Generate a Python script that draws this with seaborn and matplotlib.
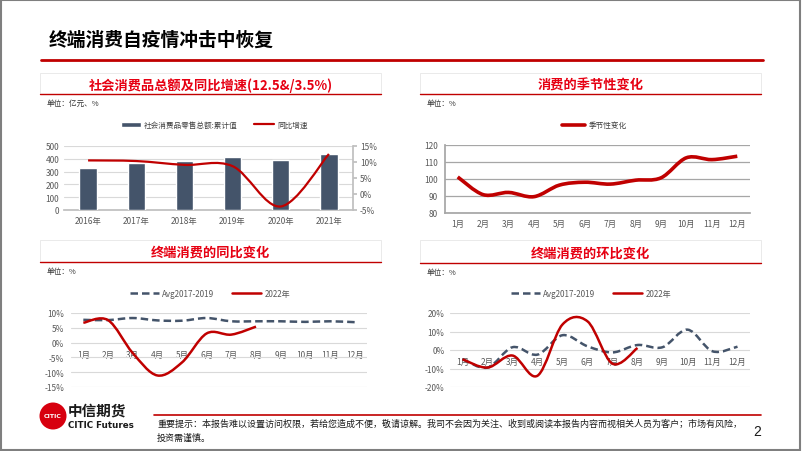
import numpy as np
import matplotlib
matplotlib.use("Agg")
import matplotlib.pyplot as plt
import seaborn as sns
from matplotlib.path import Path
from matplotlib.patches import PathPatch, Rectangle, Ellipse, Patch
from matplotlib.lines import Line2D

# ── 数据 ─────────────────────────────────────────────────────────────────────
years = ["2016年", "2017年", "2018年", "2019年", "2020年", "2021年"]
retail_total = [332, 366, 381, 412, 392, 441]          # 亿元(图上刻度)
retail_yoy = [10.5, 10.3, 9.1, 8.7, -3.9, 12.5]        # %

months = ["1月", "2月", "3月", "4月", "5月", "6月",
          "7月", "8月", "9月", "10月", "11月", "12月"]
seasonal = [101.2, 90.8, 92.1, 89.6, 96.4, 98.1, 97.0, 99.3, 100.7, 112.5, 111.4, 113.4]

yoy_avg = [7.7, 7.6, 8.3, 7.5, 7.4, 8.3, 7.2, 7.2, 7.2, 7.0, 7.2, 6.9]
yoy_2022 = [6.7, 7.6, -3.5, -11.1, -6.7, 3.1, 2.7, 5.4]

mom_avg = [-5.0, -9.5, 1.5, -2.5, 8.0, 2.0, -1.3, 2.7, 1.5, 11.0, -0.7, 1.8]
mom_2022 = [-5.0, -9.5, -3.0, -13.9, 13.8, 15.5, -7.4, 1.1]

# ── 样式 ─────────────────────────────────────────────────────────────────────
RED = "#C00000"
TITLE_RED = "#E60012"
SLATE = "#44546A"
TICK = "#595959"
GRID = "#D9D9D9"

sns.set_theme(style="white")
plt.rcParams["font.family"] = ["Noto Sans CJK SC", "DejaVu Sans"]
plt.rcParams["axes.unicode_minus"] = False

W, H = 802, 452
fig = plt.figure(figsize=(W / 100, H / 100), dpi=100)


def fx(x):
    return x / W


def fy(y):
    return 1 - y / H


def axes_px(x0, x1, y0, y1):
    # 像素坐标 -> figure 坐标
    return fig.add_axes([fx(x0), fy(y1), (x1 - x0) / W, (y1 - y0) / H])


def smooth_path(xs, ys):
    # Excel 风格平滑线 (Catmull-Rom -> Bezier)
    pts = list(zip(xs, ys))
    n = len(pts)
    verts, codes = [pts[0]], [Path.MOVETO]
    for i in range(n - 1):
        p0 = pts[i - 1] if i > 0 else pts[i]
        p1, p2 = pts[i], pts[i + 1]
        p3 = pts[i + 2] if i + 2 < n else pts[i + 1]
        c1 = (p1[0] + (p2[0] - p0[0]) / 6, p1[1] + (p2[1] - p0[1]) / 6)
        c2 = (p2[0] - (p3[0] - p1[0]) / 6, p2[1] - (p3[1] - p1[1]) / 6)
        verts += [c1, c2, p2]
        codes += [Path.CURVE4] * 3
    return Path(verts, codes)


def add_smooth(ax, ys, color, lw, ls="-"):
    path = smooth_path(range(len(ys)), ys)
    ax.add_patch(PathPatch(path, fill=False, edgecolor=color, lw=lw,
                           linestyle=ls, capstyle="butt", joinstyle="round",
                           zorder=5))


def fline(x0, x1, y0, y1, color, lw):
    fig.add_artist(Line2D([fx(x0), fx(x1)], [fy(y0), fy(y1)],
                          transform=fig.transFigure, color=color, lw=lw))


def panel_box(x0, x1, y0, y1, title, unit):
    fig.add_artist(Rectangle((fx(x0), fy(y1)), (x1 - x0) / W, (y1 - y0) / H,
                             transform=fig.transFigure, fill=False,
                             edgecolor="#E6E6E6", lw=0.6))
    fline(x0, x1, y1, y1, RED, 1.0)
    fig.text(fx((x0 + x1) / 2), fy((y0 + y1) / 2 + 1), title, ha="center",
             va="center", fontsize=9.5, fontweight="bold", color=TITLE_RED)
    fig.text(fx(x0 + 7), fy(y1 + 9), unit, ha="left", va="center",
             fontsize=5.5, color="#333333")


def style_ticks(ax):
    ax.tick_params(axis="both", labelsize=6, colors=TICK, length=0)
    for lab in ax.get_xticklabels() + ax.get_yticklabels():
        lab.set_color(TICK)


# ── 页面框与标题 ──────────────────────────────────────────────────────────────
fig.add_artist(Rectangle((0.001, 0.002), 0.997, 0.995, transform=fig.transFigure,
                         fill=False, edgecolor="#7F7F7F", lw=1.5))
fig.text(fx(49), fy(40), "终端消费自疫情冲击中恢复", ha="left", va="center",
         fontsize=13.5, fontweight="bold", color="black")
fline(41, 763, 61, 61, RED, 2.0)

panel_box(40, 381, 74, 95, "社会消费品总额及同比增速(12.5&/3.5%)", "单位：亿元、%")
panel_box(420, 761, 74, 95, "消费的季节性变化", "单位：%")
panel_box(40, 381, 241, 263, "终端消费的同比变化", "单位：%")
panel_box(420, 761, 241, 264, "终端消费的环比变化", "单位：%")

# ── 图1：社会消费品总额及同比增速 ─────────────────────────────────────────────
ax1 = axes_px(64, 353, 147, 211)
sns.barplot(x=years, y=retail_total, color=SLATE, width=0.36, ax=ax1,
            saturation=1, zorder=3)
ax1.set_xlim(-0.5, 5.5)
ax1.set_ylim(0, 500)
ax1.set_yticks(range(0, 501, 100))
ax1.set_xlabel("")
ax1.set_ylabel("")
ax1.yaxis.grid(True, color=GRID, lw=0.8)
ax1.set_axisbelow(True)
for s in ["top", "right", "left"]:
    ax1.spines[s].set_visible(False)
ax1.spines["bottom"].set_color("#BFBFBF")
style_ticks(ax1)
ax1.set_xticks(np.arange(-0.5, 6, 1), minor=True)
ax1.tick_params(axis="x", which="minor", length=3, color="#BFBFBF", direction="out")
ax1.tick_params(axis="x", pad=4)

ax1r = ax1.twinx()
ax1r.set_ylim(-5, 15)
ax1r.set_yticks(range(-5, 16, 5))
ax1r.set_yticklabels([f"{v}%" for v in range(-5, 16, 5)])
add_smooth(ax1r, retail_yoy, RED, 1.6)
for s in ["top", "left", "bottom"]:
    ax1r.spines[s].set_visible(False)
ax1r.spines["right"].set_color("#BFBFBF")
ax1r.tick_params(axis="y", labelsize=6, colors=TICK, length=3, color="#BFBFBF",
                 direction="out", pad=2)
ax1r.grid(False)
ax1r.legend(handles=[Patch(facecolor=SLATE, label="社会消费品零售总额:累计值"),
                     Line2D([], [], color=RED, lw=1.6, label="同比增速")],
            loc="center", bbox_to_anchor=(0.52, 1.33), ncol=2, frameon=False,
            fontsize=5.5, handlelength=2.6, handleheight=0.6, columnspacing=2.2,
            handletextpad=0.4, labelcolor="#404040")

# ── 图2：消费的季节性变化 ─────────────────────────────────────────────────────
ax2 = axes_px(445, 750, 146, 214)
ax2.set_xlim(-0.5, 11.5)
ax2.set_ylim(80, 120)
ax2.set_yticks(range(80, 121, 10))
ax2.set_xticks(range(12))
ax2.set_xticklabels(months)
ax2.yaxis.grid(True, color="#A6A6A6", lw=0.9)
ax2.set_axisbelow(True)
add_smooth(ax2, seasonal, RED, 2.6)
for s in ["top", "right"]:
    ax2.spines[s].set_visible(False)
ax2.spines["left"].set_color("#A6A6A6")
ax2.spines["bottom"].set_color("#A6A6A6")
style_ticks(ax2)
ax2.tick_params(axis="y", length=3, color="#A6A6A6", direction="out", pad=2)
ax2.set_xticks(np.arange(-0.5, 12, 1), minor=True)
ax2.tick_params(axis="x", which="minor", length=3, color="#A6A6A6", direction="out")
ax2.tick_params(axis="x", pad=4)
ax2.legend(handles=[Line2D([], [], color=RED, lw=2.6, label="季节性变化")],
           loc="center", bbox_to_anchor=(0.49, 1.29), frameon=False,
           fontsize=5.5, handlelength=3.0, handletextpad=0.4, labelcolor="#404040")


# ── 图3/4：同比与环比 ────────────────────────────────────────────────────────
def mom_axes(ax, avg, cur, lo, hi, step, pad_y):
    ax.set_xlim(-0.5, 11.5)
    ax.set_ylim(lo, hi)
    ax.set_yticks(range(lo, hi + 1, step))
    ax.set_yticklabels([f"{v}%" for v in range(lo, hi + 1, step)])
    ax.set_xticks(range(12))
    ax.set_xticklabels(months)
    ax.yaxis.grid(True, color=GRID, lw=0.8)
    ax.set_axisbelow(True)
    for s in ax.spines.values():
        s.set_visible(False)
    ax.spines["bottom"].set_position(("data", 0))
    style_ticks(ax)
    ax.tick_params(axis="x", pad=5)
    ax.tick_params(axis="y", pad=pad_y)
    add_smooth(ax, avg, SLATE, 1.8, ls=(0, (3, 1.6)))
    add_smooth(ax, cur, RED, 1.8)
    ax.legend(handles=[Line2D([], [], color=SLATE, lw=1.8, ls=(0, (3, 1.6)),
                              label="Avg2017-2019"),
                       Line2D([], [], color=RED, lw=1.8, label="2022年")],
              loc="center", bbox_to_anchor=(0.47, 1.27), ncol=2, frameon=False,
              fontsize=5.8, handlelength=3.6, columnspacing=2.2,
              handletextpad=0.4, labelcolor="#595959")


ax3 = axes_px(71, 367, 314, 388)
mom_axes(ax3, yoy_avg, yoy_2022, -15, 10, 5, 5)
ax4 = axes_px(450, 750, 314, 388)
mom_axes(ax4, mom_avg, mom_2022, -20, 20, 10, 4)

# ── 页脚 ─────────────────────────────────────────────────────────────────────
fig.add_artist(Ellipse((fx(53), fy(417)), 27 / W, 27 / H, transform=fig.transFigure,
                       facecolor="#D7000F", edgecolor="none"))
fig.text(fx(53), fy(417), "CITIC", ha="center", va="center", fontsize=4.5,
         fontweight="bold", color="white", family=["DejaVu Sans"])
fig.text(fx(68), fy(411), "中信期货", ha="left", va="center", fontsize=10.5,
         fontweight="bold", color="#1A1A1A")
fig.text(fx(68), fy(426), "CITIC Futures", ha="left", va="center", fontsize=6.3,
         fontweight="bold", color="#1A1A1A",
         family=["Liberation Sans Narrow", "DejaVu Sans"])
fline(154, 761, 416, 416, RED, 1.2)
fig.text(fx(157), fy(424), "重要提示：本报告难以设置访问权限，若给您造成不便，敬请谅解。"
         "我司不会因为关注、收到或阅读本报告内容而视相关人员为客户；市场有风险，",
         ha="left", va="center", fontsize=6.5, color="#1A1A1A")
fig.text(fx(157), fy(438), "投资需谨慎。", ha="left", va="center", fontsize=6.5,
         color="#1A1A1A")
fig.text(fx(757), fy(432), "2", ha="center", va="center", fontsize=10,
         color="#1A1A1A", family=["Liberation Sans", "DejaVu Sans"])

fig.savefig("out.png", dpi=100)
